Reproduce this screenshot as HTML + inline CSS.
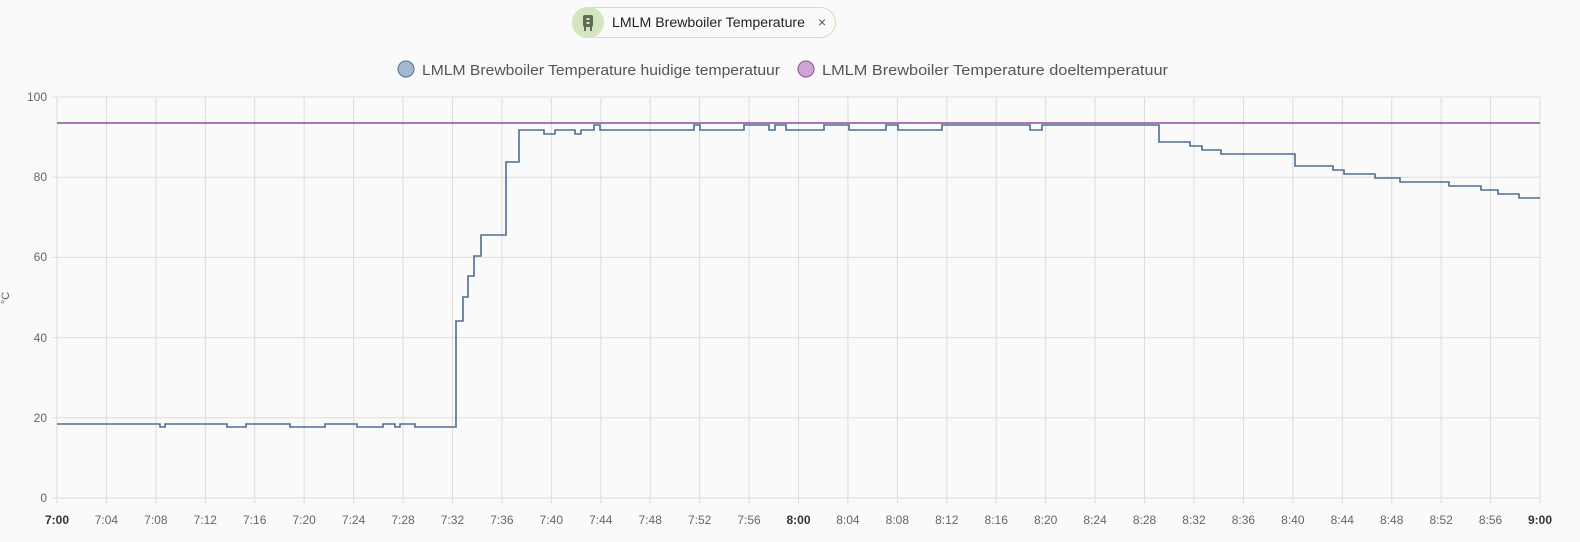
<!DOCTYPE html>
<html><head><meta charset="utf-8"><style>
body{margin:0;background:#fafafa;font-family:"Liberation Sans",sans-serif;}
.chip{position:absolute;left:572px;top:7px;width:264px;height:31px;border:1.5px solid #cfe3b4;border-radius:17px;background:#fafafa;box-sizing:border-box;}
.chip .ic{position:absolute;left:-1px;top:-1px;width:32px;height:31px;border-radius:16px;background:#d3e6bd;}
.chip .x{position:absolute;left:245px;top:6px;font-size:14px;color:#555;}
</style></head><body>
<div class="chip"><div class="ic"><svg width="32" height="31"><rect x="11" y="8" width="10" height="12" rx="2" fill="#5f6b55"/><rect x="14.5" y="11" width="3" height="2" fill="#d3e6bd"/><rect x="14.5" y="15" width="3" height="2" fill="#d3e6bd"/><rect x="12" y="20" width="2" height="4" fill="#5f6b55"/><rect x="18" y="20" width="2" height="4" fill="#5f6b55"/></svg></div><span class="x">×</span></div>
<svg width="1580" height="542" style="position:absolute;left:0;top:0" font-family="Liberation Sans, sans-serif">
<text x="612" y="27" font-size="13.5" fill="#222" textLength="193" lengthAdjust="spacingAndGlyphs">LMLM Brewboiler Temperature</text>
<circle cx="406" cy="69" r="8" fill="#a3b9d0" stroke="#4e6f92" stroke-width="1"/>
<text x="422" y="75" font-size="15" fill="#555" textLength="358" lengthAdjust="spacingAndGlyphs">LMLM Brewboiler Temperature huidige temperatuur</text>
<circle cx="806" cy="69" r="8" fill="#cfa5d4" stroke="#8f4d98" stroke-width="1"/>
<text x="822" y="75" font-size="15" fill="#555" textLength="346" lengthAdjust="spacingAndGlyphs">LMLM Brewboiler Temperature doeltemperatuur</text>
<g stroke="#dcdcdc" stroke-width="1" id="grid"></g>
<g font-size="12" fill="#666" text-anchor="end">
<text x="47" y="101">100</text><text x="47" y="181">80</text><text x="47" y="261">60</text><text x="47" y="342">40</text><text x="47" y="422">20</text><text x="47" y="502">0</text>
</g>
<text x="9" y="298" font-size="11" fill="#666" transform="rotate(-90 9 298)" text-anchor="middle">°C</text>
<g font-size="12" fill="#666" text-anchor="middle" id="xl"></g>
<line x1="57" y1="123" x2="1540" y2="123" stroke="#8f4d98" stroke-width="1.6"/>
<path fill="none" stroke="#4a6f96" stroke-width="1.6" d="M57 424H160V427H165V424H227V427H246V424H290V427H325V424H357V427H383V424H395V427H400V424H415V427H456V321H463V297H468V276H474V256H481V235H506V162H519V130H544V134H555V130H575V134H581V130H594V125H600V130H694V125H700V130H744V125H769V130H775V125H786V130H824V125H849V130H886V125H898V130H942V125H1030V130H1042V125H1159V142H1190V146H1202V150H1221V154H1295V166H1333V170H1344V174H1375V178H1400V182H1449V186H1481V190H1498V194H1519V198H1540"/>
</svg>
<script>
var g=document.getElementById('grid'),xl=document.getElementById('xl'),ns='http://www.w3.org/2000/svg';
function L(a,b,c,d){var l=document.createElementNS(ns,'line');l.setAttribute('x1',a);l.setAttribute('y1',b);l.setAttribute('x2',c);l.setAttribute('y2',d);g.appendChild(l);}
for(var i=0;i<=5;i++){var y=97+i*80.2;L(52,y,1540,y);}
for(var m=0;m<=120;m+=4){var x=57+m*1483/120;L(x,97,x,503);
var t=document.createElementNS(ns,'text');t.setAttribute('x',x);t.setAttribute('y',524);
var h=7+Math.floor(m/60),mm=m%60;t.textContent=h+':'+(mm<10?'0':'')+mm;if(mm==0){t.setAttribute('font-weight','bold');t.setAttribute('fill','#333');}xl.appendChild(t);}
</script>
</body></html>
